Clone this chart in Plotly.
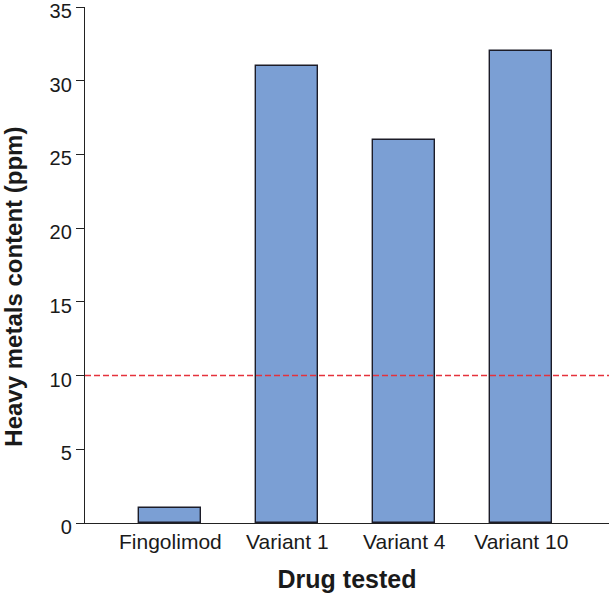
import plotly.graph_objects as go

categories = ["Fingolimod", "Variant 1", "Variant 4", "Variant 10"]
values = [1, 31, 26, 32]
limit_value = 10
y_ticks = [0, 5, 10, 15, 20, 25, 30, 35]

fig = go.Figure()
fig.add_trace(go.Bar(
    x=list(range(len(categories))), y=values, width=0.53,
    marker=dict(color="#7B9FD4", line=dict(color="#1c1c28", width=1.4)),
))
fig.add_shape(type="line", xref="paper", yref="y", x0=0, x1=1,
              y0=limit_value, y1=limit_value,
              line=dict(color="#E5323C", width=1.5, dash="6px,3px"))

fig.add_annotation(
    text="<b>Heavy metals content (ppm)</b>", textangle=-90,
    xref="paper", yref="paper", x=-0.136, y=0.4575,
    xanchor="center", yanchor="middle", showarrow=False,
    font=dict(size=24),
)

fig.update_layout(
    width=609, height=598,
    margin=dict(l=85, r=0, t=7, b=75, autoexpand=False),
    plot_bgcolor="white", paper_bgcolor="white",
    font=dict(family="Liberation Sans, Arial", color="#1a1a1a", size=21),
    showlegend=False,
    bargap=0,
)
fig.update_xaxes(
    range=[-0.73, 3.75], tickmode="array",
    tickvals=list(range(len(categories))), ticktext=categories,
    showline=True, linecolor="#222", linewidth=1.3, ticks="",
    showgrid=False, zeroline=False, automargin=False,
    title=dict(text="<b>Drug tested</b>", font=dict(size=25), standoff=18),
    tickfont=dict(size=21),
)
fig.update_yaxes(
    range=[0, 35.001], tickvals=y_ticks,
    showline=True, linecolor="#222", linewidth=1.3,
    ticks="outside", ticklen=8, tickcolor="#222", tickwidth=1.3,
    showgrid=False, zeroline=False, automargin=False,
    ticklabeloverflow="allow", ticklabelshift=4,
    tickfont=dict(size=20),
)
fig.write_html("out.html", config={"displayModeBar": False},
               post_script="document.body.style.margin='0';")
